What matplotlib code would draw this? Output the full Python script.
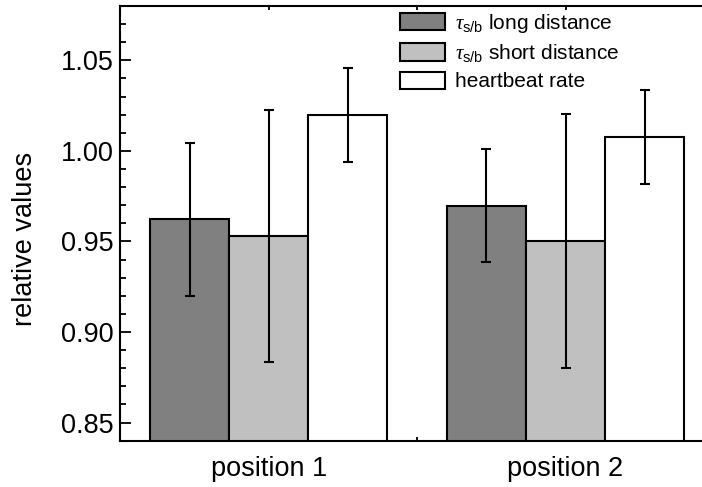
import numpy as np
import matplotlib
matplotlib.use("Agg")
from matplotlib import pyplot as plt
from matplotlib.ticker import MultipleLocator, FixedLocator, FormatStrFormatter

plt.rcParams['font.family'] = ['Liberation Sans', 'DejaVu Sans']
plt.rcParams['mathtext.fontset'] = 'custom'
plt.rcParams['mathtext.rm'] = 'Liberation Sans'
plt.rcParams['mathtext.it'] = 'Liberation Serif:italic'

#
# Data
#
positions = ["position 1", "position 2"]
labels = [r"$\tau_{\mathrm{s/b}}$ long distance",
          r"$\tau_{\mathrm{s/b}}$ short distance",
          "heartbeat rate"]
long_dist = [0.9622, 0.9698]
long_err = [0.0424, 0.0313]
short_dist = [0.9528, 0.9502]
short_err = [0.0695, 0.0700]
heart_rate = [1.0197, 1.0075]
heart_err = [0.0261, 0.0260]
colors = ["#808080", "#c0c0c0", "#ffffff"]

#
# Plot
#
fig = plt.figure(figsize=(7.02, 4.87), dpi=100)
ax = fig.add_axes([0.1713, 0.0951, 1.017 - 0.1713, 0.9877 - 0.0951])

x = np.arange(1, len(positions) + 1)
w = 0.8 / 3
series = [(long_dist, long_err), (short_dist, short_err), (heart_rate, heart_err)]
for i, (vals, errs) in enumerate(series):
    ax.bar(x + (i - 1) * w, vals, w, yerr=errs, color=colors[i],
           edgecolor='black', linewidth=1.5, label=labels[i], zorder=2,
           error_kw=dict(ecolor='black', elinewidth=1.5, capsize=3.5, capthick=1.5))

ax.set_xlim(0.5, 2.5)
ax.set_ylim(0.84, 1.08)
ax.set_xticks(x)
ax.set_xticklabels(positions)
ax.xaxis.set_minor_locator(FixedLocator([1.5]))
ax.yaxis.set_major_locator(MultipleLocator(0.05))
ax.yaxis.set_minor_locator(MultipleLocator(0.01))
ax.yaxis.set_major_formatter(FormatStrFormatter('%.2f'))
ax.set_ylabel("relative values", fontsize=19.5)
ax.yaxis.set_label_coords(-0.138, 0.465)

ax.tick_params(axis='y', which='major', direction='in', length=8, width=1.3, labelsize=19.5, pad=5)
ax.tick_params(axis='y', which='minor', direction='in', length=4.5, width=1.3)
ax.tick_params(axis='x', which='both', direction='in', length=3, width=1.3,
               labelsize=19.5, top=True, pad=11)
ax.spines['right'].set_visible(False)
for s in ['left', 'top', 'bottom']:
    ax.spines[s].set_linewidth(1.5)

ax.legend(loc='upper left', bbox_to_anchor=(400 / 702, 1 - 12 / 487),
          bbox_transform=fig.transFigure, frameon=False, fontsize=15,
          borderpad=0, borderaxespad=0, handlelength=2.16, handleheight=0.9,
          handletextpad=0.5, labelspacing=0.35)

plt.savefig("out.png", dpi=100)
